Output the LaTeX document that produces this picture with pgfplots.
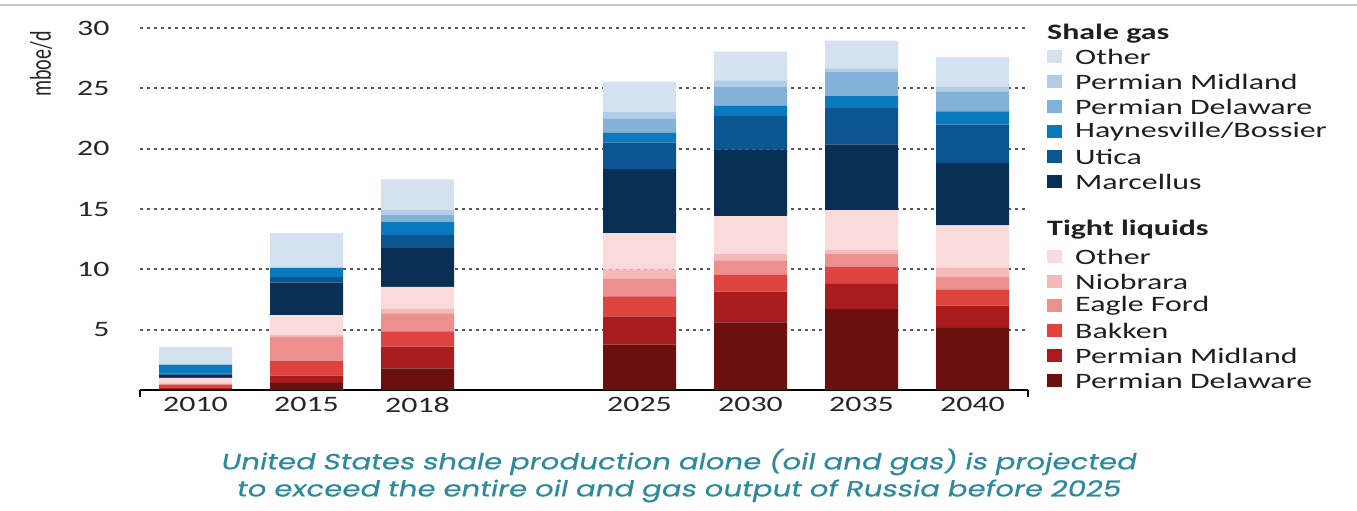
\documentclass[border=0pt]{standalone}
\usepackage{fontspec}
\usepackage{pgfplots}
\pgfplotsset{compat=1.18}
\usepackage{pgfplotstable}
\setmainfont{Carlito}
\newfontfamily\chartfont[FakeStretch=1.45]{Carlito}
\newfontfamily\capfont[FakeStretch=1.33,FakeSlant=0.2,FakeBold=0.5]{Poppins}

\definecolor{gOth}{HTML}{D4E2F0}
\definecolor{gPMid}{HTML}{B3CDE6}
\definecolor{gPDel}{HTML}{84B1D8}
\definecolor{gHay}{HTML}{0B79BE}
\definecolor{gUti}{HTML}{0B5592}
\definecolor{gMar}{HTML}{0A2F55}
\definecolor{tlOth}{HTML}{FADADA}
\definecolor{tlNio}{HTML}{F4B9B9}
\definecolor{tlEF}{HTML}{EC8F8D}
\definecolor{tlBak}{HTML}{DE4340}
\definecolor{tlMid}{HTML}{A81C1E}
\definecolor{tlDel}{HTML}{6B100E}
\definecolor{capteal}{HTML}{2B8A9C}

\pgfplotstableread{
x tlDel tlMid tlBak tlEF tlNio tlOth gMar gUti gHay gPDel gPMid gOth
0 0.05 0.10 0.25 0.10 0.05 0.45 0.30 0.05 0.75 0.00 0.00 1.45
1 0.60 0.60 1.20 2.00 0.15 1.65 2.70 0.45 0.75 0.05 0.05 2.80
2 1.80 1.80 1.25 1.50 0.40 1.80 3.20 1.10 1.10 0.55 0.40 2.55
4 3.75 2.35 1.65 1.45 0.80 3.00 5.30 2.20 0.80 1.20 0.55 2.50
5 5.60 2.55 1.40 1.20 0.50 3.15 5.55 2.75 0.85 1.60 0.50 2.40
6 6.70 2.10 1.40 1.05 0.35 3.30 5.45 3.00 1.00 2.00 0.30 2.30
7 5.15 1.85 1.30 1.05 0.80 3.50 5.15 3.20 1.10 1.60 0.40 2.50
}\data

\begin{document}
\begin{tikzpicture}
\path[use as bounding box] (0,0) rectangle (1357pt,511pt);
\draw[black!22, line width=2pt] (0,506pt) -- (1357pt,506pt);
\begin{axis}[
  at={(140pt,121pt)}, anchor=south west,
  scale only axis, width=888pt, height=362pt,
  xmin=-0.5, xmax=7.5, ymin=0, ymax=30,
  ybar stacked, bar width=73pt,
  xtick={0,1,2,4,5,6,7},
  xticklabels={2010,2015,2018,2025,2030,2035,2040},
  ytick={5,10,...,30},
  axis x line*=bottom, axis y line*=left,
  y axis line style={draw=none},
  x axis line style={line width=1.6pt, -},
  major tick length=0pt,
  ymajorgrids,
  grid style={black!65, line width=2pt, dash pattern=on 2.5pt off 4.5pt},
  /pgf/number format/assume math mode=true,
  tick label style={font=\chartfont\fontsize{22}{26}\selectfont, text=black!85},
  yticklabel style={xshift=-27pt},
  xticklabel style={yshift=-4pt},
  extra x ticks={-0.5,7.5}, extra x tick labels={},
  extra x tick style={major tick length=7pt, tick align=outside, tick style={line width=1.6pt, black}},
  clip=false,
]
\addplot[fill=tlDel, draw=none] table[x=x,y=tlDel]{\data};
\addplot[fill=tlMid, draw=none] table[x=x,y=tlMid]{\data};
\addplot[fill=tlBak, draw=none] table[x=x,y=tlBak]{\data};
\addplot[fill=tlEF, draw=none] table[x=x,y=tlEF]{\data};
\addplot[fill=tlNio, draw=none] table[x=x,y=tlNio]{\data};
\addplot[fill=tlOth, draw=none] table[x=x,y=tlOth]{\data};
\addplot[fill=gMar, draw=none] table[x=x,y=gMar]{\data};
\addplot[fill=gUti, draw=none] table[x=x,y=gUti]{\data};
\addplot[fill=gHay, draw=none] table[x=x,y=gHay]{\data};
\addplot[fill=gPDel, draw=none] table[x=x,y=gPDel]{\data};
\addplot[fill=gPMid, draw=none] table[x=x,y=gPMid]{\data};
\addplot[fill=gOth, draw=none] table[x=x,y=gOth]{\data};
\end{axis}
% y label
\node[rotate=90, text=black!85, font=\fontsize{20}{24}\selectfont] at (41pt,447pt) {\scalebox{1}[1.5]{mboe/d}};
% legend
\begin{scope}[every node/.style={anchor=west, inner sep=0pt, text=black!88, font=\chartfont\fontsize{22}{26}\selectfont}]
\node[font=\chartfont\bfseries\fontsize{22}{26}\selectfont] at (1047pt,477pt) {Shale gas};
\foreach \c/\t/\y in {gOth/Other/454, gPMid/Permian Midland/429, gPDel/Permian Delaware/404, gHay/Haynesville\slash Bossier/379.5, gUti/Utica/354, gMar/Marcellus/329,
  tlOth/Other/254, tlNio/Niobrara/229, tlEF/Eagle Ford/205, tlBak/Bakken/180, tlMid/Permian Midland/155, tlDel/Permian Delaware/130}{
  \fill[\c] (1047pt,\y pt-6.5pt) rectangle (1062pt,\y pt+6.5pt);
  \node at (1075pt,\y pt) {\t};
}
\node[font=\chartfont\bfseries\fontsize{22}{26}\selectfont] at (1047pt,281pt) {Tight liquids};
\end{scope}
% caption
\node[text=capteal, font=\capfont\fontsize{22}{26}\selectfont] at (678pt,49pt) {United States shale production alone (oil and gas) is projected};
\node[text=capteal, font=\capfont\fontsize{22}{26}\selectfont] at (678pt,20pt) {to exceed the entire oil and gas output of Russia before 2025};
\end{tikzpicture}
\end{document}
